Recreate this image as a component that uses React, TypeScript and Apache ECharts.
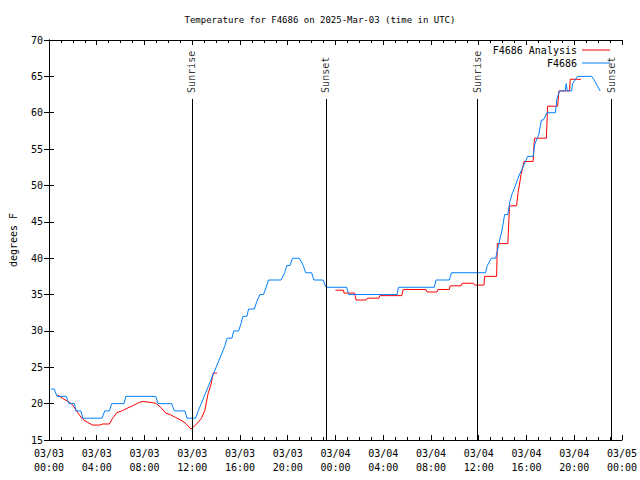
import React, { useEffect, useRef } from "react";
import * as echarts from "echarts";

const TITLE = "Temperature for F4686 on 2025-Mar-03 (time in UTC)";
const FONT = "DejaVu Sans Mono";

const xTickLabels = [
  "03/03\n00:00", "03/03\n04:00", "03/03\n08:00", "03/03\n12:00", "03/03\n16:00", "03/03\n20:00",
  "03/04\n00:00", "03/04\n04:00", "03/04\n08:00", "03/04\n12:00", "03/04\n16:00", "03/04\n20:00",
  "03/05\n00:00",
];

// hours since 2025-03-03 00:00 UTC
const obsHours = [
  0.17, 0.44, 0.67, 1.44, 1.67, 2.14, 2.25, 2.67, 2.83, 4.44, 4.67, 5.06, 5.25, 6.28, 6.44, 8.94,
  9.14, 10.28, 10.5, 11.39, 11.56, 12.28, 12.5, 12.75, 13.0, 13.25, 13.5, 13.75, 14.0, 14.25, 14.5,
  14.75, 14.92, 15.33, 15.47, 15.89, 16.08, 16.25, 16.58, 16.72, 17.2, 17.4, 17.67, 17.97, 18.2,
  18.39, 19.44, 19.75, 19.92, 20.2, 20.4, 20.97, 21.3, 21.5, 22.0, 22.2, 22.97, 23.2, 24.94, 25.1,
  29.17, 29.27, 32.28, 32.42, 33.53, 33.72, 36.58, 36.72, 37.06, 37.42, 37.56, 37.69, 37.97, 38.17,
  38.44, 38.61, 38.81, 39.08, 39.36, 39.64, 39.92, 40.1, 40.56, 40.7, 41.03, 41.25, 41.42, 41.71,
  42.42, 42.56, 42.78, 43.25, 43.33, 43.42, 43.78, 43.86, 44.08, 44.28, 45.47, 45.75, 46.17,
];
const obsTemps = [
  22, 22, 21, 21, 20, 20, 19, 19, 18, 18, 19, 19, 20, 20, 21, 21,
  20, 20, 19, 19, 18, 18, 19, 20, 21, 22, 23, 24, 25, 26, 27,
  28, 29, 29, 30, 30, 31, 32, 32, 33, 33, 34, 35, 35, 36,
  37, 37, 38, 39, 39, 40, 40, 39, 38, 38, 37, 37, 36, 36, 35,
  35, 36, 36, 37, 37, 38, 38, 39, 40, 40, 41, 42, 44, 46,
  46, 47.8, 48.9, 50, 51.3, 52.3, 53.3, 54, 54, 55.7, 57, 59, 59, 60,
  60, 62, 63, 63, 64, 63, 63, 64, 64.5, 65, 65, 64.3, 63,
];

const anaHours = [
  0.72, 1.17, 1.58, 1.94, 2.28, 2.56, 2.83, 3.25, 3.67, 4.22, 4.5, 5.06, 5.33, 5.67, 6.17, 6.58,
  7.0, 7.42, 7.78, 8.39, 8.94, 9.36, 9.78, 10.19, 10.61, 11.03, 11.44, 11.89, 12.28, 12.78, 13.06,
  13.33, 13.58, 13.75, 14.08, 19.0,
  24.0, 24.67, 24.72, 25.6, 25.72, 26.58, 26.67, 27.64, 27.72, 29.56, 29.67, 31.58, 31.67, 32.5,
  32.58, 33.53, 33.61, 34.53, 34.61, 35.56, 35.67, 36.44, 36.5, 37.5, 37.56, 38.44, 38.58, 39.17,
  39.3, 39.55, 39.8, 40.56, 40.67, 41.67, 41.77, 42.61, 42.72, 43.61, 43.67, 44.56,
];
const anaTemps: (number | null)[] = [
  21.2, 20.7, 20.3, 19.9, 19.1, 18.4, 17.85, 17.4, 17.05, 17.05, 17.2, 17.2, 18, 18.75, 19.05, 19.4,
  19.7, 20.05, 20.3, 20.2, 20.05, 19.5, 18.7, 18.45, 18.1, 17.75, 17.3, 16.5, 17.05, 18, 19.1,
  21.4, 22.7, 24.2, 24.2, null,
  35.6, 35.6, 35.2, 35.2, 34.25, 34.25, 34.5, 34.5, 34.85, 34.85, 35.7, 35.7, 35.35, 35.35,
  35.7, 35.7, 36.2, 36.2, 36.55, 36.55, 36.3, 36.3, 37.5, 37.5, 42, 42, 47.2, 47.2,
  49, 51.5, 53.3, 53.3, 56.5, 56.5, 60.9, 60.9, 63, 63, 64.6, 64.6,
];

const sunHours = [11.97, 23.19, 35.86, 47.14];
const sunNames = ["Sunrise", "Sunset", "Sunrise", "Sunset"];
const SUN_LINE_TOP = 61.9;

export default function App() {
  const ref = useRef<HTMLDivElement>(null);
  useEffect(() => {
    if (!ref.current) return;
    const chart = echarts.init(ref.current, null, { renderer: "svg" });
    const black = "#000";
    const xBase = {
      type: "value",
      min: 0,
      max: 48,
      interval: 4,
      axisLine: { show: true, lineStyle: { color: black, width: 1 } },
      axisTick: { show: true, inside: true, length: 5, lineStyle: { color: black } },
      minorTick: { show: true, splitNumber: 4, length: 3, lineStyle: { color: black } },
      splitLine: { show: false },
      minorSplitLine: { show: false },
    };
    const yBase = {
      type: "value",
      min: 15,
      max: 70,
      interval: 5,
      axisLine: { show: true, lineStyle: { color: black, width: 1 } },
      axisTick: { show: true, inside: true, length: 5, lineStyle: { color: black } },
      splitLine: { show: false },
    };
    const legendBase = {
      right: 30,
      padding: 0,
      align: "right",
      icon: "rect",
      itemWidth: 28,
      itemHeight: 1,
      textStyle: { fontFamily: FONT, fontSize: 10, color: black },
    };
    const option = {
      animation: false,
      textStyle: { fontFamily: FONT, fontSize: 10, color: black },
      title: {
        text: TITLE,
        left: "center",
        top: 15,
        padding: 0,
        textStyle: { fontFamily: FONT, fontSize: 9, fontWeight: "normal", color: black },
      },
      legend: [
        { ...legendBase, data: ["F4686 Analysis"], top: 45 },
        { ...legendBase, data: ["F4686"], top: 58 },
      ],
      grid: { left: 46, right: 18, top: 40, bottom: 40, show: false },
      xAxis: [
        {
          ...xBase,
          position: "bottom",
          axisLabel: {
            show: true,
            margin: 6,
            lineHeight: 14,
            fontFamily: FONT,
            fontSize: 10,
            color: black,
            formatter: (v: number) => xTickLabels[Math.round(v / 4)] ?? "",
          },
        },
        { ...xBase, position: "top", axisLabel: { show: false } },
      ],
      yAxis: [
        {
          ...yBase,
          position: "left",
          name: "degrees F",
          nameLocation: "middle",
          nameGap: 31,
          nameRotate: 90,
          nameTextStyle: { fontFamily: FONT, fontSize: 10, color: black },
          axisLabel: { show: true, margin: 6, fontFamily: FONT, fontSize: 10, color: black },
        },
        { ...yBase, position: "right", axisLabel: { show: false } },
      ],
      series: [
        {
          name: "F4686 Analysis",
          type: "line",
          xAxisIndex: 0,
          yAxisIndex: 0,
          symbol: "none",
          connectNulls: false,
          lineStyle: { color: "#ff0000", width: 1 },
          itemStyle: { color: "#ff0000" },
          data: anaHours.map((h, i) => [h, anaTemps[i] === null ? "-" : anaTemps[i]]),
          z: 3,
        },
        {
          name: "F4686",
          type: "line",
          xAxisIndex: 0,
          yAxisIndex: 0,
          symbol: "none",
          lineStyle: { color: "#0080ff", width: 1 },
          itemStyle: { color: "#0080ff" },
          data: obsHours.map((h, i) => [h, obsTemps[i]]),
          z: 4,
        },
        {
          name: "sun",
          type: "scatter",
          xAxisIndex: 0,
          yAxisIndex: 0,
          symbolSize: 0,
          silent: true,
          label: {
            show: true,
            formatter: "{b}",
            position: "top",
            distance: 6,
            rotate: 90,
            align: "left",
            verticalAlign: "middle",
            fontFamily: FONT,
            fontSize: 10,
            color: black,
          },
          data: sunHours.map((h, i) => ({ name: sunNames[i], value: [h, SUN_LINE_TOP] })),
          markLine: {
            silent: true,
            symbol: "none",
            label: { show: false },
            lineStyle: { color: black, width: 1, type: "solid" },
            data: sunHours.map((h) => [{ coord: [h, 15] }, { coord: [h, SUN_LINE_TOP] }]),
          },
          z: 5,
        },
      ],
    };
    chart.setOption(option as any);
    return () => chart.dispose();
  }, []);
  return (
    <div
      ref={ref}
      style={{ position: "absolute", left: 0, top: 0, width: 640, height: 480, background: "#fff" }}
    />
  );
}
